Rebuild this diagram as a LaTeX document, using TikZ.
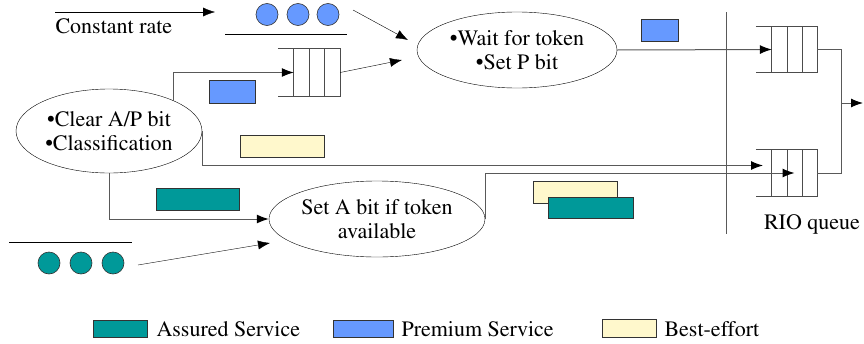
\documentclass[tikz,border=0pt]{standalone}
\usepackage[T1]{fontenc}
\renewcommand{\rmdefault}{ptm}
\usetikzlibrary{shapes.geometric, arrows.meta}

\definecolor{assured}{HTML}{009999}
\definecolor{premium}{HTML}{6699FF}
\definecolor{besteff}{HTML}{FFF8CC}

\tikzset{
    stage/.style={ellipse, draw, thin, inner sep=0pt, align=center},
    qbody/.style={rectangle, inner sep=0pt},
    qline/.style={draw=black!70, line width=1pt},
    pkt/.style={draw=black!80, line width=0.6pt},
    wire/.style={draw=black!65, line width=1pt}
}

\begin{document}
\begin{tikzpicture}[
        x=1pt, y=-1pt,
        >={Latex[length=12pt, width=9pt, color=black]},
        every node/.style={font=\rmfamily\fontsize{22}{24}\selectfont}
    ]

        \useasboundingbox (0,0) rectangle (864,343);

        % Stadi
        \node[stage, minimum width=200, minimum height=76] (wait) at (517,50)
            {\textbullet Wait for token\\\textbullet Set P bit};
        \node[stage, minimum width=186, minimum height=84] (clear) at (109,131)
            {\textbullet Clear A/P bit\\\textbullet Classification};
        \node[stage, minimum width=216, minimum height=76] (seta) at (377,219)
            {Set A bit if token\\available};

        % Code
        \node[qbody, minimum width=46, minimum height=47] (pq) at (317,72.5) {};
        \node[qbody, minimum width=45, minimum height=45] (rq1) at (794.5,49.5) {};
        \node[qbody, minimum width=45, minimum height=46] (rq2) at (794.5,173) {};
        \foreach \q in {pq, rq1, rq2} {
            \draw[qline] ([xshift=-16pt]\q.north west) -- (\q.north east)
                -- (\q.south east) -- ([xshift=-16pt]\q.south west);
            \foreach \x in {0,15.5,31}
                \draw[qline] ([xshift=\x pt]\q.north west) -- ([xshift=\x pt]\q.south west);
        }

        % Flusso a rate costante
        \coordinate (cr a) at (55,12);
        \coordinate (cr b) at (215,12);
        \draw[->, thin] (cr a) -- (cr b);
        \node[anchor=west] (crlabel) at (52,26) {Constant rate};

        \foreach \x in {267,298,328}
            \draw[pkt, fill=premium] (\x,14.5) circle (11pt);
        \draw[thin] (225,34) -- (347,34);

        \foreach \x in {49,81,113}
            \draw[pkt, fill=assured] (\x,263) circle (11pt);
        \draw[thin] (9,242) -- (132,242);

        % Ingressi
        \coordinate (pk1) at (353,10);
        \coordinate (w in1) at (408,40);
        \coordinate (w in2) at (402,60);
        \coordinate (pk2) at (138,265);
        \coordinate (s in) at (270,243);
        \draw[->, thin] (pk1) -- (w in1);
        \draw[->, thin] (pq.east) -- (w in2);
        \draw[->, thin] (pk2) -- (s in);

        % Collegamenti
        \coordinate (be in) at (763,165.5);
        \draw[->, wire] (clear.25) |- (pq.west);
        \draw[->, wire] (clear.east) |- (be in);
        \draw[->, wire] (clear.south) |- (seta.west);
        \draw[->, wire] (seta.east) |- (rq2.center);
        \draw[->, wire] (wait.east) -- (rq1.west);

        % Uscita
        \coordinate (join) at (841,103);
        \coordinate (out) at (863,103);
        \draw[wire] (rq1.east) -| (join) |- (rq2.east);
        \draw[->, wire] (join) -- (out);

        \draw[wire] (726,12) -- (726,234);
        \node (rio) at (812,224) {RIO queue};

        % Pacchetti
        \draw[pkt, fill=premium] (209,80) rectangle (255,103);
        \draw[pkt, fill=premium] (641,19) rectangle (678,41);
        \draw[pkt, fill=besteff] (240,135) rectangle (324,157);
        \draw[pkt, fill=assured] (156,188) rectangle (239,210);
        \draw[pkt, fill=besteff] (533,181) rectangle (617,203);
        \draw[pkt, fill=assured] (548,197) rectangle (633,218);

        % Legenda
        \draw[pkt, fill=assured] (93,320) rectangle (147,337);
        \node[anchor=west] (l1) at (153,329) {Assured Service};
        \draw[pkt, fill=premium] (333,320) rectangle (393,337);
        \node[anchor=west] (l2) at (398,329) {Premium Service};
        \draw[pkt, fill=besteff] (602,319) rectangle (656,337);
        \node[anchor=west] (l3) at (661,329) {Best-effort};

    \end{tikzpicture}
\end{document}
